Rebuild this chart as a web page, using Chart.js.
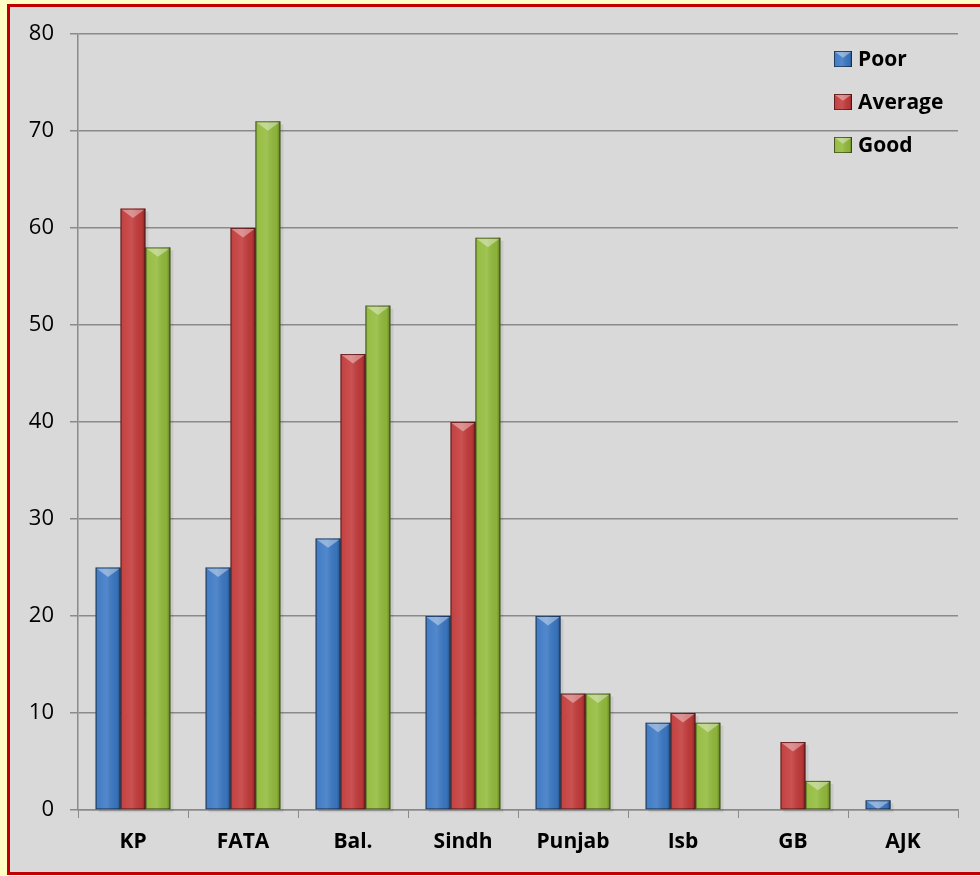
<!DOCTYPE html>
<html>
<head>
<meta charset="utf-8">
<script src="https://cdn.jsdelivr.net/npm/chart.js@4.4.0/dist/chart.umd.min.js"></script>
<style>
  body { margin: 0; background: #ffffc4; width: 980px; height: 876px; overflow: hidden; position: relative; }
  #marco { position: absolute; left: 7px; top: 4px; width: 990px; height: 865px; border: 3px solid #c00000; background: #d9d9d9; }
  #grafico { position: absolute; left: 0; top: 0; }
</style>
</head>
<body>
<div id="marco"></div>
<canvas id="grafico" width="980" height="876"></canvas>
<script>
var regioes = ['KP', 'FATA', 'Bal.', 'Sindh', 'Punjab', 'Isb', 'GB', 'AJK']
var poor = [25, 25, 28, 20, 20, 9, 0, 1]
var average = [62, 60, 47, 40, 12, 10, 7, 0]
var good = [58, 71, 52, 59, 12, 9, 3, 0]
var ticksY = [0, 10, 20, 30, 40, 50, 60, 70, 80]

var cores = ['#3b78c4', '#c33a3a', '#93bb3c']

// desenha o efeito de relevo por cima das barras
function relevo(ctx, x0, y0, w, h) {
  ctx.save()
  var g = ctx.createLinearGradient(x0, 0, x0 + w, 0)
  g.addColorStop(0, 'rgba(0,0,0,0.22)')
  g.addColorStop(0.12, 'rgba(255,255,255,0.05)')
  g.addColorStop(0.45, 'rgba(255,255,255,0.12)')
  g.addColorStop(0.85, 'rgba(0,0,0,0.05)')
  g.addColorStop(1, 'rgba(0,0,0,0.35)')
  ctx.fillStyle = g
  ctx.fillRect(x0, y0, w, h)
  var t = Math.min(w * 0.38, h)
  ctx.beginPath()
  ctx.moveTo(x0 + 1, y0 + 1)
  ctx.lineTo(x0 + w - 1, y0 + 1)
  ctx.lineTo(x0 + w / 2, y0 + t)
  ctx.closePath()
  ctx.fillStyle = 'rgba(255,255,255,0.38)'
  ctx.fill()
  ctx.strokeStyle = 'rgba(0,0,0,0.45)'
  ctx.lineWidth = 1
  ctx.strokeRect(x0 + 0.5, y0 + 0.5, w - 1, h - 1)
  ctx.restore()
}

var pluginRelevo = {
  id: 'relevo',
  beforeDatasetsDraw(chart) {
    // sombra leve atras das barras
    var ctx = chart.ctx
    ctx.save()
    ctx.fillStyle = 'rgba(0,0,0,0.08)'
    chart.data.datasets.forEach(function (ds, i) {
      chart.getDatasetMeta(i).data.forEach(function (bar) {
        var h = bar.base - bar.y
        if (h < 1) return
        ctx.fillRect(bar.x - bar.width / 2 + 3, bar.y + 3, bar.width, h)
      })
    })
    ctx.restore()
  },
  afterDatasetsDraw(chart) {
    var ctx = chart.ctx
    chart.data.datasets.forEach(function (ds, i) {
      var meta = chart.getDatasetMeta(i)
      meta.data.forEach(function (bar) {
        var h = bar.base - bar.y
        if (h < 1) return
        relevo(ctx, bar.x - bar.width / 2, bar.y, bar.width, h)
      })
    })
  }
}

var pluginLegenda = {
  id: 'legenda',
  afterDraw(chart) {
    var ctx = chart.ctx
    ctx.save()
    ctx.font = 'bold 21px "Open Sans"'
    ctx.textBaseline = 'middle'
    chart.data.datasets.forEach(function (ds, i) {
      var y = 59 + i * 43
      var x = 834
      ctx.fillStyle = ds.backgroundColor
      ctx.fillRect(x, y - 8, 18, 16)
      relevo(ctx, x, y - 8, 18, 16)
      ctx.fillStyle = '#000'
      ctx.fillText(ds.label, x + 24, y + 1)
    })
    ctx.restore()
  }
}

new Chart(document.getElementById('grafico'), {
  type: 'bar',
  data: {
    labels: regioes,
    datasets: [
      { label: 'Poor', data: poor, backgroundColor: cores[0] },
      { label: 'Average', data: average, backgroundColor: cores[1] },
      { label: 'Good', data: good, backgroundColor: cores[2] }
    ]
  },
  options: {
    responsive: false,
    animation: false,
    categoryPercentage: 0.68,
    barPercentage: 1,
    layout: { padding: { top: 34, right: 22, left: 0, bottom: 0 } },
    plugins: { legend: { display: false }, tooltip: { enabled: false } },
    scales: {
      x: {
        grid: { drawOnChartArea: false, color: '#8a8a8a', tickLength: 8, offset: true },
        border: { color: '#8a8a8a', width: 1.5 },
        ticks: { color: '#000', font: { family: 'Open Sans', size: 21, weight: 'bold' }, padding: 11 },
        afterFit: function (s) { s.height = 66 }
      },
      y: {
        min: 0,
        max: 80,
        afterBuildTicks: function (s) { s.ticks = ticksY.map(function (v) { return { value: v } }) },
        grid: { color: '#8a8a8a', lineWidth: 1.5, tickLength: 8 },
        border: { color: '#8a8a8a', width: 1.5 },
        ticks: { color: '#000', font: { family: 'Open Sans', size: 22 }, padding: 16 },
        afterFit: function (s) { s.width = 78 }
      }
    }
  },
  plugins: [pluginRelevo, pluginLegenda]
})
</script>
</body>
</html>
